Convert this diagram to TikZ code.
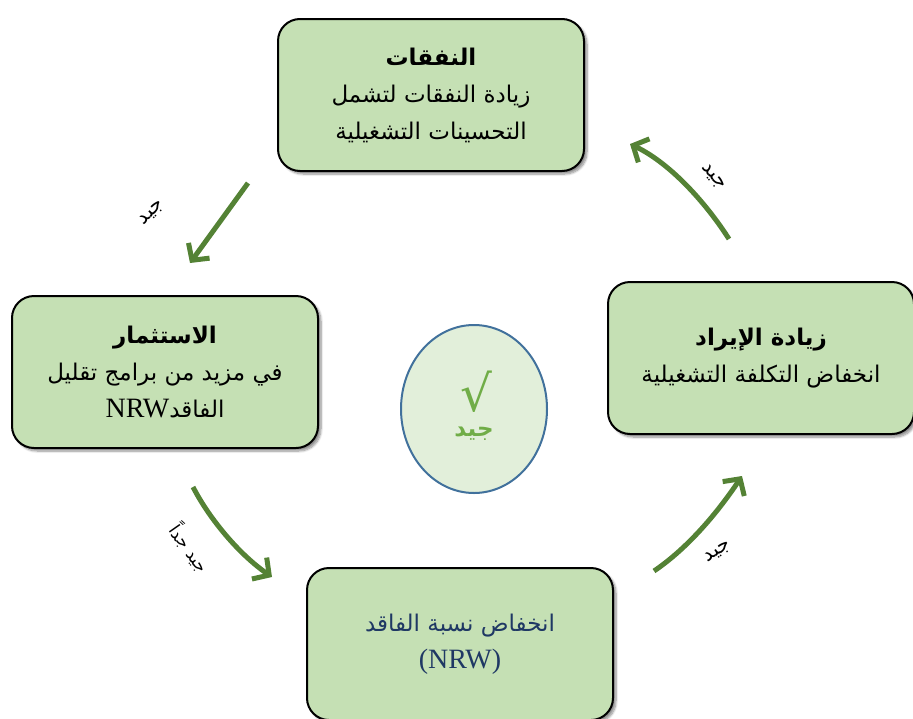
\documentclass[tikz,border=0pt]{standalone}
\usepackage{fontspec}
\setmainfont{DejaVu Sans}
\newfontfamily\arabicfont[Script=Arabic]{DejaVu Sans}
\newfontfamily\latinserif{Liberation Serif}
\TeXXeTstate=1
\usetikzlibrary{arrows.meta,shapes.geometric,shadows.blur}

\definecolor{boxfill}{HTML}{C5E0B4}
\definecolor{circfill}{HTML}{E2EFDA}
\definecolor{circline}{HTML}{41719C}
\definecolor{arrowgreen}{HTML}{548235}
\definecolor{goodgreen}{HTML}{70AD47}
\definecolor{navy}{HTML}{1F3864}

\newcommand{\rl}[1]{\beginR #1\endR}
\newcommand{\nrw}[1]{{\latinserif\fontsize{28}{37}\selectfont #1}}

\tikzset{
  stagebox/.style={draw=black, line width=2pt, fill=boxfill, rounded corners=22pt,
    minimum width=306pt, minimum height=152pt, align=center,
    font=\arabicfont\fontsize{23}{37}\selectfont,
    blur shadow={shadow xshift=3pt, shadow yshift=-3pt, shadow blur steps=8, shadow opacity=45}},
  flow/.style={draw=arrowgreen, line width=5pt,
    -{Straight Barb[length=12pt,width=26pt,line width=5pt]}},
  tag/.style={font=\arabicfont\fontsize{20}{20}\selectfont, inner sep=0pt}
}

\begin{document}
\begin{tikzpicture}[x=1pt, y=-1pt]
  \useasboundingbox (0,0) rectangle (913,718);

  % four stages of the cycle
  \node[stagebox] (spend) at (431,95)
    {\rl{\textbf{النفقات}}\\ \rl{زيادة النفقات لتشمل}\\ \rl{التحسينات التشغيلية}};
  \node[stagebox] (invest) at (165,372)
    {\rl{\textbf{الاستثمار}}\\ \rl{في مزيد من برامج تقليل}\\ \rl{الفاقد\beginL\nrw{NRW}\endL}};
  \node[stagebox] (revenue) at (761,358)
    {\rl{\textbf{زيادة الإيراد}}\\ \rl{انخفاض التكلفة التشغيلية}};
  \node[stagebox, text=navy] (loss) at (460,644)
    {\rl{انخفاض نسبة الفاقد}\\ \nrw{(NRW)}};

  % centre mark
  \node[ellipse, draw=circline, line width=2pt, fill=circfill,
        minimum width=146pt, minimum height=168pt] (good) at (474,409) {};
  \node[text=goodgreen, font=\fontsize{50}{50}\selectfont, inner sep=0pt] (tick) at (476,392) {√};
  \node[text=goodgreen, font=\arabicfont\bfseries\fontsize{23}{23}\selectfont] (goodword) at (474,434) {\rl{جيد}};

  % arrow end points
  \coordinate (a1s) at (248,183); \coordinate (a1e) at (190,263);
  \coordinate (a2s) at (193,487); \coordinate (a2e) at (272,577);
  \coordinate (a3s) at (654,571); \coordinate (a3e) at (742,476);
  \coordinate (a4s) at (729,239); \coordinate (a4e) at (630,144);

  % arrows between the stages
  \draw[flow] (a1s) -- (a1e);
  \draw[flow] (a2s) .. controls (210,520) and (240,555) .. (a2e);
  \draw[flow] (a3s) .. controls (688,548) and (718,512) .. (a3e);
  \draw[flow] (a4s) .. controls (708,206) and (672,164) .. (a4e);

  % arrow labels
  \node[tag, rotate=45]  (l1) at (152,213) {\rl{جيد}};
  \node[tag, rotate=-55, font=\arabicfont\fontsize{17}{17}\selectfont] (l2) at (190,548) {\rl{جيد جداً}};
  \node[tag, rotate=35]  (l3) at (718,552) {\rl{جيد}};
  \node[tag, rotate=-50] (l4) at (713,177) {\rl{جيد}};
\end{tikzpicture}
\end{document}
